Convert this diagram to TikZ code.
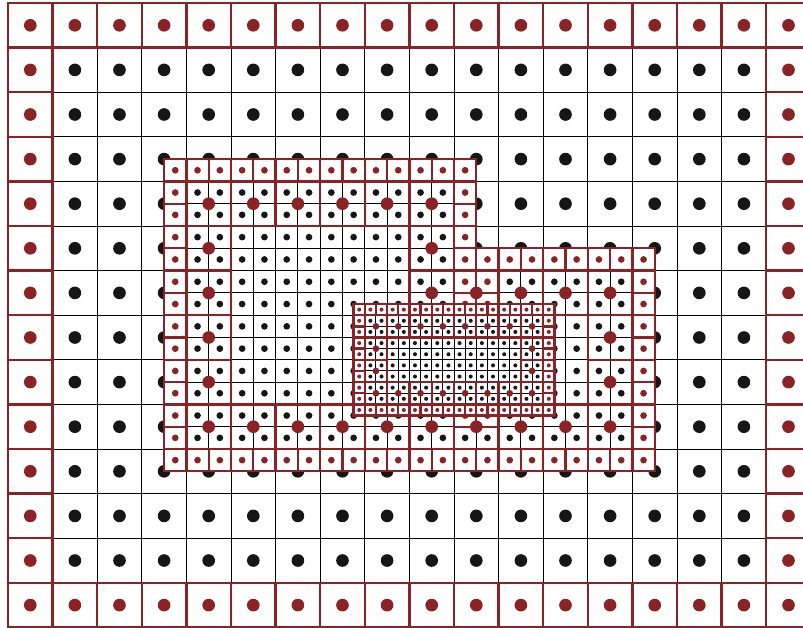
\documentclass[tikz,border=0pt]{standalone}
\definecolor{ghostred}{RGB}{139,35,38}
\definecolor{dotblack}{RGB}{22,22,22}
\tikzset{
    gridline/.style={draw=black, line width=0.6pt},
    ghostbox/.style={draw=ghostred, line width=1.5pt}
}
% red cell: corner x, corner y, size, dot radius
\newcommand{\ghostcell}[4]{%
    \draw[ghostbox] (#1,#2) rectangle ++(#3,#3);
    \fill[ghostred] (#1+#3/2,#2+#3/2) circle (#4);}

\begin{document}
\begin{tikzpicture}[x=1cm, y=-1cm]
    \useasboundingbox (-0.179,-0.067) rectangle (17.825,14.013);
    \clip (-0.179,-0.067) rectangle (17.825,14.013);

    % coarse level
    \draw[gridline] (0,0) grid (18,14);
    \foreach \j in {1,2,3,10,11,12}
        \foreach \i in {1,...,16}
            \fill[dotblack] (\i+.5,\j+.5) circle (1.42mm);
    \foreach \j in {4,5}
        \foreach \i in {1,2,3,10,11,...,16}
            \fill[dotblack] (\i+.5,\j+.5) circle (1.42mm);
    \foreach \j in {6,...,9}
        \foreach \i in {1,2,3,14,15,16}
            \fill[dotblack] (\i+.5,\j+.5) circle (1.42mm);
    % coarse boundary
    \foreach \i in {0,...,17} {
        \ghostcell{\i}{0}{1}{1.42mm}
        \ghostcell{\i}{13}{1}{1.42mm}
    }
    \foreach \j in {1,...,12} {
        \ghostcell{0}{\j}{1}{1.42mm}
        \ghostcell{17}{\j}{1}{1.42mm}
    }

    % level 1 (two patches)
    \fill[white] (3.5,3.5) -- (10.5,3.5) -- (10.5,5.5) -- (14.5,5.5)
        -- (14.5,10.5) -- (3.5,10.5) -- cycle;
    \foreach \k in {0,...,14} {\draw[gridline] (3.5+.5*\k,3.5) -- (3.5+.5*\k,10.5);}
    \foreach \k in {15,...,22} {\draw[gridline] (3.5+.5*\k,5.5) -- (3.5+.5*\k,10.5);}
    \foreach \k in {0,...,3} {\draw[gridline] (3.5,3.5+.5*\k) -- (10.5,3.5+.5*\k);}
    \foreach \k in {4,...,14} {\draw[gridline] (3.5,3.5+.5*\k) -- (14.5,3.5+.5*\k);}
    \foreach \q in {1,...,6,11}
        \foreach \p in {1,...,12}
            \fill[dotblack] (3.75+.5*\p,3.75+.5*\q) circle (.75mm);
    \foreach \p in {1,...,20}
        \fill[dotblack] (3.75+.5*\p,9.75) circle (.75mm);
    \foreach \q in {7,...,10}
        \foreach \p in {1,...,8}
            \fill[dotblack] (3.75+.5*\p,3.75+.5*\q) circle (.75mm);
    \foreach \q in {5,6,11}
        \foreach \p in {15,...,20}
            \fill[dotblack] (3.75+.5*\p,3.75+.5*\q) circle (.75mm);
    \foreach \q in {7,...,10}
        \foreach \p in {17,...,20}
            \fill[dotblack] (3.75+.5*\p,3.75+.5*\q) circle (.75mm);
    % level 1 ghost cells
    \foreach \p in {0,...,13} {
        \ghostcell{3.5+.5*\p}{3.5}{.5}{.75mm}
        \ghostcell{3.5+.5*\p}{10}{.5}{.75mm}
    }
    \foreach \q in {1,...,12} {\ghostcell{3.5}{3.5+.5*\q}{.5}{.75mm}}
    \foreach \q in {1,...,11} {\ghostcell{10}{3.5+.5*\q}{.5}{.75mm}}
    \foreach \p in {14,...,21} {
        \ghostcell{3.5+.5*\p}{5.5}{.5}{.75mm}
        \ghostcell{3.5+.5*\p}{10}{.5}{.75mm}
    }
    \foreach \q in {5,...,11} {\ghostcell{10.5}{3.5+.5*\q}{.5}{.75mm}}
    \foreach \q in {5,...,12} {\ghostcell{14}{3.5+.5*\q}{.5}{.75mm}}
    % coarse cells under level 1
    \foreach \i in {4,...,9} {\ghostcell{\i}{4}{1}{1.42mm}}
    \foreach \i in {4,...,13} {\ghostcell{\i}{9}{1}{1.42mm}}
    \foreach \j in {5,...,8} {\ghostcell{4}{\j}{1}{1.42mm}}
    \foreach \i in {9,...,13} {\ghostcell{\i}{6}{1}{1.42mm}}
    \ghostcell{9}{5}{1}{1.42mm}
    \ghostcell{13}{7}{1}{1.42mm}
    \ghostcell{13}{8}{1}{1.42mm}

    % level 2
    \fill[white] (7.75,6.75) rectangle (12.25,9.25);
    \foreach \k in {0,...,18} {\draw[gridline] (7.75+.25*\k,6.75) -- (7.75+.25*\k,9.25);}
    \foreach \k in {0,...,10} {\draw[gridline] (7.75,6.75+.25*\k) -- (12.25,6.75+.25*\k);}
    \foreach \s in {1,...,8}
        \foreach \r in {1,...,16}
            \fill[dotblack] (7.875+.25*\r,6.875+.25*\s) circle (.45mm);
    \foreach \r in {0,...,17} {
        \ghostcell{7.75+.25*\r}{6.75}{.25}{.45mm}
        \ghostcell{7.75+.25*\r}{9}{.25}{.45mm}
    }
    \foreach \s in {1,...,8} {
        \ghostcell{7.75}{6.75+.25*\s}{.25}{.45mm}
        \ghostcell{12}{6.75+.25*\s}{.25}{.45mm}
    }
    % level 1 cells under level 2
    \foreach \p in {9,...,16} {
        \ghostcell{3.5+.5*\p}{7}{.5}{.75mm}
        \ghostcell{3.5+.5*\p}{8.5}{.5}{.75mm}
    }
    \foreach \q in {8,9} {
        \ghostcell{8}{3.5+.5*\q}{.5}{.75mm}
        \ghostcell{11.5}{3.5+.5*\q}{.5}{.75mm}
    }
\end{tikzpicture}
\end{document}
